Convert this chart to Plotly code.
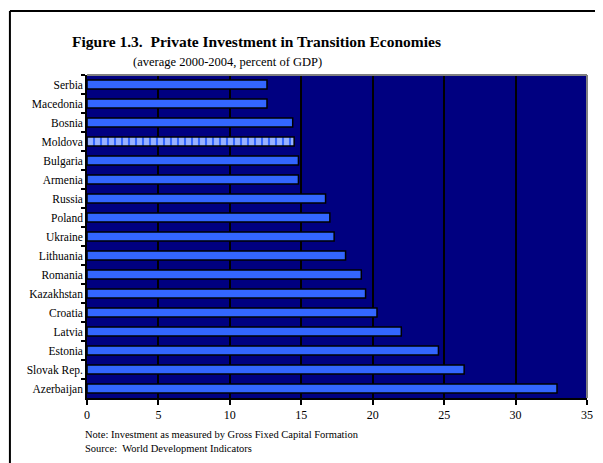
import plotly.graph_objects as go

countries = ["Serbia", "Macedonia", "Bosnia", "Moldova", "Bulgaria", "Armenia", "Russia",
             "Poland", "Ukraine", "Lithuania", "Romania", "Kazakhstan", "Croatia", "Latvia",
             "Estonia", "Slovak Rep.", "Azerbaijan"]
investment = [12.6, 12.6, 14.4, 14.5, 14.8, 14.8, 16.7, 17.0, 17.3, 18.1, 19.2, 19.5,
              20.3, 22.0, 24.6, 26.4, 32.9]
highlight = "Moldova"

x_ticks = [0, 5, 10, 15, 20, 25, 30, 35]

# page body has an 8px margin, so the figure is drawn 8px smaller and shifted
OFF = 8
W, H = 603 - OFF, 463 - OFF
L, R, T, B = 87 - OFF, 10, 75 - OFF, 65
pw, ph = W - L - R, H - T - B

def px_x(x):
    # x in window pixels -> paper coords
    return (x - OFF - L) / pw

def px_y(y):
    return (H - B - (y - OFF)) / ph

bar_blue = "#3366FF"
is_hl = [c == highlight for c in countries]

fig = go.Figure()
fig.add_trace(go.Bar(
    y=countries,
    x=investment,
    orientation="h",
    width=0.47,
    marker=dict(
        color=bar_blue,
        line=dict(color="black", width=1.5),
        pattern=dict(
            shape=["|" if h else "" for h in is_hl],
            fgcolor="white",
            bgcolor=bar_blue,
            size=7,
            solidity=0.7,
            fillmode="overlay",
        ),
    ),
    hoverinfo="x+y",
))

font_serif = "Liberation Serif, Times New Roman, serif"

fig.update_layout(
    width=W, height=H,
    margin=dict(l=L, r=R, t=T, b=B),
    paper_bgcolor="white",
    plot_bgcolor="#000080",
    showlegend=False,
    font=dict(family=font_serif, color="black", size=11),
    xaxis=dict(
        range=[0, 35],
        tickvals=x_ticks,
        showgrid=True, gridcolor="black", gridwidth=1.5,
        zeroline=False,
        showline=True, linecolor="black", linewidth=1.5,
        ticks="outside", ticklen=5, tickwidth=1.5, tickcolor="black",
        tickfont=dict(size=12),
        fixedrange=True,
    ),
    yaxis=dict(
        autorange="reversed",
        showgrid=False,
        zeroline=False,
        showline=True, linecolor="black", linewidth=1.5,
        ticks="outside", ticklen=4, tickwidth=1.5, tickcolor="black",
        tickson="boundaries",
        tickfont=dict(size=11.5),
        fixedrange=True,
    ),
    annotations=[
        dict(text="<b>Figure 1.3.  Private Investment in Transition Economies</b>",
             xref="paper", yref="paper", x=px_x(259), y=px_y(42),
             xanchor="center", yanchor="middle", showarrow=False,
             font=dict(size=15.5, family=font_serif)),
        dict(text="(average 2000-2004, percent of GDP)",
             xref="paper", yref="paper", x=px_x(229), y=px_y(62),
             xanchor="center", yanchor="middle", showarrow=False,
             font=dict(size=12.5, family=font_serif)),
        dict(text="Note: Investment as measured by Gross Fixed Capital Formation",
             xref="paper", yref="paper", x=px_x(83), y=px_y(434),
             xanchor="left", yanchor="middle", showarrow=False,
             font=dict(size=10.5, family=font_serif)),
        dict(text="Source:  World Development Indicators",
             xref="paper", yref="paper", x=px_x(83), y=px_y(448),
             xanchor="left", yanchor="middle", showarrow=False,
             font=dict(size=10.5, family=font_serif)),
    ],
    shapes=[
        # outer frame (open at right and bottom like the clipped original)
        dict(type="line", xref="paper", yref="paper",
             x0=px_x(9), y0=px_y(11), x1=px_x(620), y1=px_y(11),
             line=dict(color="black", width=2)),
        dict(type="line", xref="paper", yref="paper",
             x0=px_x(9), y0=px_y(11), x1=px_x(9), y1=px_y(480),
             line=dict(color="black", width=2)),
        # gray top and right plot border
        dict(type="line", xref="paper", yref="paper",
             x0=0, y0=1, x1=1, y1=1, line=dict(color="#808080", width=2)),
        dict(type="line", xref="paper", yref="paper",
             x0=1, y0=0, x1=1, y1=1, line=dict(color="#808080", width=2)),
    ],
)

fig.write_html("out.html")
